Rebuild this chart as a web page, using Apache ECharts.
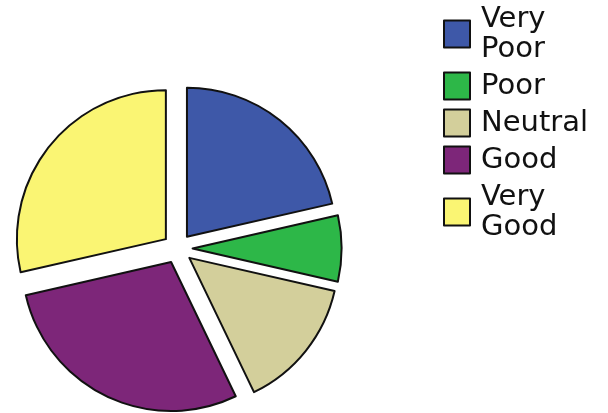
<!DOCTYPE html>
<html>
<head>
<meta charset="utf-8">
<script src="https://cdn.jsdelivr.net/npm/echarts@6/dist/echarts.min.js"></script>
<style>
html,body{margin:0;padding:0;background:#fff;}
#chart{width:608px;height:413px;}
</style>
</head>
<body>
<div id="chart"></div>
<script>
const categories = ['Very Poor', 'Poor', 'Neutral', 'Good', 'Very Good'];
const legendLabels = ['Very\nPoor', 'Poor', 'Neutral', 'Good', 'Very\nGood'];
const values = [15, 5, 10, 20, 20];
const colors = ['#3e58a8', '#2db748', '#d3cf9b', '#7d2679', '#faf573'];

const chart = echarts.init(document.getElementById('chart'), null, {renderer: 'canvas'});
const border = {borderColor: '#111', borderWidth: 2};
chart.setOption({
  animation: false,
  backgroundColor: '#fff',
  legend: {
    orient: 'vertical',
    left: 443,
    top: 4,
    padding: 0,
    itemGap: 7,
    itemWidth: 26,
    itemHeight: 27,
    icon: 'rect',
    selectedMode: false,
    data: categories,
    formatter: function (name) { return legendLabels[categories.indexOf(name)]; },
    textStyle: {
      fontFamily: 'DejaVu Sans',
      fontSize: 29,
      lineHeight: 30,
      color: '#111',
      padding: [0, 0, 0, 6]
    },
    itemStyle: border
  },
  series: [{
    type: 'pie',
    center: [177.6, 248.5],
    radius: 149,
    startAngle: 90,
    clockwise: true,
    selectedMode: 'multiple',
    selectedOffset: 15,
    label: {show: false},
    labelLine: {show: false},
    emphasis: {disabled: true, scale: false},
    select: {itemStyle: border},
    itemStyle: border,
    data: categories.map(function (c, i) {
      return {name: c, value: values[i], selected: true, itemStyle: {color: colors[i]}};
    })
  }]
});
</script>
</body>
</html>
